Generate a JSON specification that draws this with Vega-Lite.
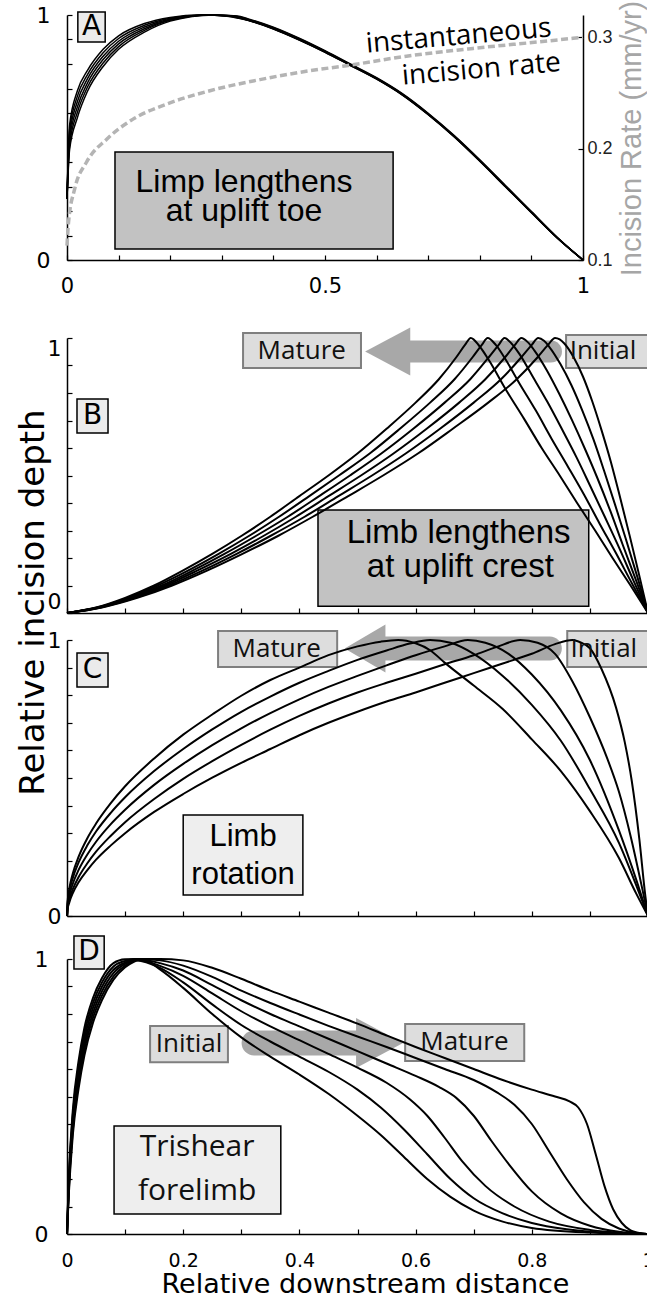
{
"$schema": "https://vega.github.io/schema/vega-lite/v6.json",
"background": "#ffffff",
"padding": {"left": 15, "top": 0, "right": 0, "bottom": 0},
"config": {
  "view": {"stroke": null},
  "axis": {"grid": false, "domainColor": "#000000", "domainWidth": 1.5, "tickColor": "#000000", "tickWidth": 1.2, "tickSize": -5, "labelColor": "#000000", "labelFont": "DejaVu Sans", "titleFont": "DejaVu Sans", "titleColor": "#000000", "titleFontWeight": "normal"}
},
"datasets": {
"cA": [
{"k":0,"x":0,"y":0.25},{"k":0,"x":0.005,"y":0.55},{"k":0,"x":0.02,"y":0.69},{"k":0,"x":0.04,"y":0.775},{"k":0,"x":0.07,"y":0.86},{"k":0,"x":0.1,"y":0.915},{"k":0,"x":0.15,"y":0.965},{"k":0,"x":0.2,"y":0.99},{"k":0,"x":0.26,"y":1},{"k":0,"x":0.31,"y":0.995},{"k":0,"x":0.35,"y":0.978},{"k":0,"x":0.4,"y":0.943},{"k":0,"x":0.45,"y":0.898},{"k":0,"x":0.5,"y":0.848},{"k":0,"x":0.55,"y":0.793},{"k":0,"x":0.6,"y":0.738},{"k":0,"x":0.65,"y":0.673},{"k":0,"x":0.7,"y":0.593},{"k":0,"x":0.75,"y":0.503},{"k":0,"x":0.8,"y":0.403},{"k":0,"x":0.85,"y":0.298},{"k":0,"x":0.9,"y":0.193},{"k":0,"x":0.95,"y":0.09},{"k":0,"x":1,"y":0},
{"k":1,"x":0,"y":0.25},{"k":1,"x":0.005,"y":0.53},{"k":1,"x":0.02,"y":0.668},{"k":1,"x":0.04,"y":0.758},{"k":1,"x":0.07,"y":0.846},{"k":1,"x":0.1,"y":0.904},{"k":1,"x":0.15,"y":0.958},{"k":1,"x":0.2,"y":0.987},{"k":1,"x":0.265,"y":1},{"k":1,"x":0.31,"y":0.996},{"k":1,"x":0.35,"y":0.979},{"k":1,"x":0.4,"y":0.944},{"k":1,"x":0.45,"y":0.899},{"k":1,"x":0.5,"y":0.849},{"k":1,"x":0.55,"y":0.794},{"k":1,"x":0.6,"y":0.739},{"k":1,"x":0.65,"y":0.674},{"k":1,"x":0.7,"y":0.594},{"k":1,"x":0.75,"y":0.504},{"k":1,"x":0.8,"y":0.404},{"k":1,"x":0.85,"y":0.299},{"k":1,"x":0.9,"y":0.194},{"k":1,"x":0.95,"y":0.09},{"k":1,"x":1,"y":0},
{"k":2,"x":0,"y":0.25},{"k":2,"x":0.005,"y":0.51},{"k":2,"x":0.02,"y":0.646},{"k":2,"x":0.04,"y":0.741},{"k":2,"x":0.07,"y":0.832},{"k":2,"x":0.1,"y":0.893},{"k":2,"x":0.15,"y":0.951},{"k":2,"x":0.2,"y":0.984},{"k":2,"x":0.27,"y":1},{"k":2,"x":0.315,"y":0.996},{"k":2,"x":0.35,"y":0.98},{"k":2,"x":0.4,"y":0.945},{"k":2,"x":0.45,"y":0.9},{"k":2,"x":0.5,"y":0.85},{"k":2,"x":0.55,"y":0.795},{"k":2,"x":0.6,"y":0.74},{"k":2,"x":0.65,"y":0.675},{"k":2,"x":0.7,"y":0.595},{"k":2,"x":0.75,"y":0.505},{"k":2,"x":0.8,"y":0.405},{"k":2,"x":0.85,"y":0.3},{"k":2,"x":0.9,"y":0.195},{"k":2,"x":0.95,"y":0.091},{"k":2,"x":1,"y":0},
{"k":3,"x":0,"y":0.25},{"k":3,"x":0.005,"y":0.49},{"k":3,"x":0.02,"y":0.624},{"k":3,"x":0.04,"y":0.724},{"k":3,"x":0.07,"y":0.818},{"k":3,"x":0.1,"y":0.882},{"k":3,"x":0.15,"y":0.944},{"k":3,"x":0.2,"y":0.981},{"k":3,"x":0.275,"y":1},{"k":3,"x":0.32,"y":0.996},{"k":3,"x":0.35,"y":0.981},{"k":3,"x":0.4,"y":0.946},{"k":3,"x":0.45,"y":0.901},{"k":3,"x":0.5,"y":0.851},{"k":3,"x":0.55,"y":0.796},{"k":3,"x":0.6,"y":0.741},{"k":3,"x":0.65,"y":0.676},{"k":3,"x":0.7,"y":0.596},{"k":3,"x":0.75,"y":0.506},{"k":3,"x":0.8,"y":0.406},{"k":3,"x":0.85,"y":0.301},{"k":3,"x":0.9,"y":0.196},{"k":3,"x":0.95,"y":0.091},{"k":3,"x":1,"y":0},
{"k":4,"x":0,"y":0.25},{"k":4,"x":0.005,"y":0.47},{"k":4,"x":0.02,"y":0.602},{"k":4,"x":0.04,"y":0.707},{"k":4,"x":0.07,"y":0.804},{"k":4,"x":0.1,"y":0.871},{"k":4,"x":0.15,"y":0.937},{"k":4,"x":0.2,"y":0.978},{"k":4,"x":0.28,"y":1},{"k":4,"x":0.325,"y":0.996},{"k":4,"x":0.35,"y":0.983},{"k":4,"x":0.4,"y":0.948},{"k":4,"x":0.45,"y":0.903},{"k":4,"x":0.5,"y":0.852},{"k":4,"x":0.55,"y":0.797},{"k":4,"x":0.6,"y":0.742},{"k":4,"x":0.65,"y":0.677},{"k":4,"x":0.7,"y":0.597},{"k":4,"x":0.75,"y":0.507},{"k":4,"x":0.8,"y":0.407},{"k":4,"x":0.85,"y":0.302},{"k":4,"x":0.9,"y":0.197},{"k":4,"x":0.95,"y":0.092},{"k":4,"x":1,"y":0},
{"k":5,"x":0,"y":0.25},{"k":5,"x":0.005,"y":0.45},{"k":5,"x":0.02,"y":0.58},{"k":5,"x":0.04,"y":0.69},{"k":5,"x":0.07,"y":0.79},{"k":5,"x":0.1,"y":0.86},{"k":5,"x":0.15,"y":0.93},{"k":5,"x":0.2,"y":0.975},{"k":5,"x":0.285,"y":1},{"k":5,"x":0.33,"y":0.996},{"k":5,"x":0.35,"y":0.985},{"k":5,"x":0.4,"y":0.95},{"k":5,"x":0.45,"y":0.905},{"k":5,"x":0.5,"y":0.854},{"k":5,"x":0.55,"y":0.799},{"k":5,"x":0.6,"y":0.744},{"k":5,"x":0.65,"y":0.679},{"k":5,"x":0.7,"y":0.599},{"k":5,"x":0.75,"y":0.509},{"k":5,"x":0.8,"y":0.409},{"k":5,"x":0.85,"y":0.303},{"k":5,"x":0.9,"y":0.198},{"k":5,"x":0.95,"y":0.093},{"k":5,"x":1,"y":0}
],
"rate": [
{"x":0,"r":0.113},{"x":0.003,"r":0.134},{"x":0.015,"r":0.164},{"x":0.038,"r":0.188},{"x":0.077,"r":0.2085},{"x":0.128,"r":0.2265},{"x":0.193,"r":0.24},{"x":0.277,"r":0.252},{"x":0.374,"r":0.262},{"x":0.471,"r":0.27},{"x":0.542,"r":0.2745},{"x":0.658,"r":0.283},{"x":0.787,"r":0.29},{"x":0.917,"r":0.296},{"x":1,"r":0.3}
],
"cB": [
{"k":0,"x":0,"y":0},{"k":0,"x":0.05,"y":0.02},{"k":0,"x":0.1,"y":0.055},{"k":0,"x":0.15,"y":0.1},{"k":0,"x":0.2,"y":0.155},{"k":0,"x":0.25,"y":0.215},{"k":0,"x":0.3,"y":0.28},{"k":0,"x":0.35,"y":0.35},{"k":0,"x":0.4,"y":0.425},{"k":0,"x":0.45,"y":0.5},{"k":0,"x":0.5,"y":0.58},{"k":0,"x":0.55,"y":0.67},{"k":0,"x":0.6,"y":0.765},{"k":0,"x":0.64,"y":0.85},{"k":0,"x":0.67,"y":0.93},{"k":0,"x":0.685,"y":0.975},{"k":0,"x":0.695,"y":1},{"k":0,"x":0.71,"y":0.97},{"k":0,"x":0.726,"y":0.92},{"k":0,"x":0.756,"y":0.81},{"k":0,"x":0.787,"y":0.705},{"k":0,"x":0.817,"y":0.6},{"k":0,"x":0.848,"y":0.5},{"k":0,"x":0.878,"y":0.4},{"k":0,"x":0.909,"y":0.3},{"k":0,"x":0.939,"y":0.2},{"k":0,"x":0.97,"y":0.1},{"k":0,"x":1,"y":0},
{"k":1,"x":0,"y":0},{"k":1,"x":0.052,"y":0.02},{"k":1,"x":0.104,"y":0.055},{"k":1,"x":0.156,"y":0.1},{"k":1,"x":0.209,"y":0.155},{"k":1,"x":0.261,"y":0.215},{"k":1,"x":0.313,"y":0.28},{"k":1,"x":0.365,"y":0.35},{"k":1,"x":0.417,"y":0.425},{"k":1,"x":0.468,"y":0.5},{"k":1,"x":0.521,"y":0.58},{"k":1,"x":0.573,"y":0.67},{"k":1,"x":0.625,"y":0.765},{"k":1,"x":0.667,"y":0.85},{"k":1,"x":0.698,"y":0.93},{"k":1,"x":0.714,"y":0.975},{"k":1,"x":0.724,"y":1},{"k":1,"x":0.738,"y":0.975},{"k":1,"x":0.752,"y":0.932},{"k":1,"x":0.779,"y":0.834},{"k":1,"x":0.807,"y":0.736},{"k":1,"x":0.834,"y":0.634},{"k":1,"x":0.862,"y":0.533},{"k":1,"x":0.89,"y":0.43},{"k":1,"x":0.917,"y":0.324},{"k":1,"x":0.945,"y":0.217},{"k":1,"x":0.972,"y":0.109},{"k":1,"x":1,"y":0},
{"k":2,"x":0,"y":0},{"k":2,"x":0.054,"y":0.02},{"k":2,"x":0.108,"y":0.055},{"k":2,"x":0.163,"y":0.1},{"k":2,"x":0.217,"y":0.155},{"k":2,"x":0.271,"y":0.215},{"k":2,"x":0.325,"y":0.28},{"k":2,"x":0.38,"y":0.35},{"k":2,"x":0.434,"y":0.425},{"k":2,"x":0.487,"y":0.5},{"k":2,"x":0.541,"y":0.58},{"k":2,"x":0.596,"y":0.67},{"k":2,"x":0.65,"y":0.765},{"k":2,"x":0.694,"y":0.85},{"k":2,"x":0.726,"y":0.93},{"k":2,"x":0.743,"y":0.975},{"k":2,"x":0.753,"y":1},{"k":2,"x":0.765,"y":0.98},{"k":2,"x":0.778,"y":0.944},{"k":2,"x":0.802,"y":0.858},{"k":2,"x":0.827,"y":0.767},{"k":2,"x":0.852,"y":0.668},{"k":2,"x":0.877,"y":0.566},{"k":2,"x":0.901,"y":0.46},{"k":2,"x":0.926,"y":0.348},{"k":2,"x":0.951,"y":0.234},{"k":2,"x":0.975,"y":0.118},{"k":2,"x":1,"y":0},
{"k":3,"x":0,"y":0},{"k":3,"x":0.056,"y":0.02},{"k":3,"x":0.113,"y":0.055},{"k":3,"x":0.169,"y":0.1},{"k":3,"x":0.225,"y":0.155},{"k":3,"x":0.282,"y":0.215},{"k":3,"x":0.338,"y":0.28},{"k":3,"x":0.394,"y":0.35},{"k":3,"x":0.45,"y":0.425},{"k":3,"x":0.506,"y":0.5},{"k":3,"x":0.562,"y":0.58},{"k":3,"x":0.619,"y":0.67},{"k":3,"x":0.675,"y":0.765},{"k":3,"x":0.72,"y":0.85},{"k":3,"x":0.754,"y":0.93},{"k":3,"x":0.771,"y":0.975},{"k":3,"x":0.782,"y":1},{"k":3,"x":0.793,"y":0.985},{"k":3,"x":0.804,"y":0.956},{"k":3,"x":0.826,"y":0.882},{"k":3,"x":0.847,"y":0.798},{"k":3,"x":0.869,"y":0.702},{"k":3,"x":0.891,"y":0.599},{"k":3,"x":0.913,"y":0.49},{"k":3,"x":0.935,"y":0.372},{"k":3,"x":0.956,"y":0.251},{"k":3,"x":0.978,"y":0.127},{"k":3,"x":1,"y":0},
{"k":4,"x":0,"y":0},{"k":4,"x":0.058,"y":0.02},{"k":4,"x":0.117,"y":0.055},{"k":4,"x":0.175,"y":0.1},{"k":4,"x":0.234,"y":0.155},{"k":4,"x":0.292,"y":0.215},{"k":4,"x":0.35,"y":0.28},{"k":4,"x":0.409,"y":0.35},{"k":4,"x":0.467,"y":0.425},{"k":4,"x":0.525,"y":0.5},{"k":4,"x":0.583,"y":0.58},{"k":4,"x":0.642,"y":0.67},{"k":4,"x":0.7,"y":0.765},{"k":4,"x":0.747,"y":0.85},{"k":4,"x":0.782,"y":0.93},{"k":4,"x":0.8,"y":0.975},{"k":4,"x":0.811,"y":1},{"k":4,"x":0.821,"y":0.99},{"k":4,"x":0.83,"y":0.968},{"k":4,"x":0.849,"y":0.906},{"k":4,"x":0.868,"y":0.829},{"k":4,"x":0.887,"y":0.736},{"k":4,"x":0.906,"y":0.632},{"k":4,"x":0.924,"y":0.52},{"k":4,"x":0.943,"y":0.396},{"k":4,"x":0.962,"y":0.268},{"k":4,"x":0.981,"y":0.136},{"k":4,"x":1,"y":0},
{"k":5,"x":0,"y":0},{"k":5,"x":0.06,"y":0.02},{"k":5,"x":0.121,"y":0.055},{"k":5,"x":0.181,"y":0.1},{"k":5,"x":0.242,"y":0.155},{"k":5,"x":0.302,"y":0.215},{"k":5,"x":0.363,"y":0.28},{"k":5,"x":0.423,"y":0.35},{"k":5,"x":0.484,"y":0.425},{"k":5,"x":0.544,"y":0.5},{"k":5,"x":0.604,"y":0.58},{"k":5,"x":0.664,"y":0.67},{"k":5,"x":0.725,"y":0.765},{"k":5,"x":0.774,"y":0.85},{"k":5,"x":0.81,"y":0.93},{"k":5,"x":0.828,"y":0.975},{"k":5,"x":0.84,"y":1},{"k":5,"x":0.848,"y":0.995},{"k":5,"x":0.856,"y":0.98},{"k":5,"x":0.872,"y":0.93},{"k":5,"x":0.888,"y":0.86},{"k":5,"x":0.904,"y":0.77},{"k":5,"x":0.92,"y":0.665},{"k":5,"x":0.936,"y":0.55},{"k":5,"x":0.952,"y":0.42},{"k":5,"x":0.968,"y":0.285},{"k":5,"x":0.984,"y":0.145},{"k":5,"x":1,"y":0}
],
"cC": [
{"k":0,"x":0,"y":0},{"k":0,"x":0.001,"y":0.051},{"k":0,"x":0.004,"y":0.099},{"k":0,"x":0.01,"y":0.154},{"k":0,"x":0.02,"y":0.215},{"k":0,"x":0.035,"y":0.282},{"k":0,"x":0.05,"y":0.335},{"k":0,"x":0.075,"y":0.408},{"k":0,"x":0.1,"y":0.47},{"k":0,"x":0.15,"y":0.571},{"k":0,"x":0.2,"y":0.657},{"k":0,"x":0.25,"y":0.73},{"k":0,"x":0.3,"y":0.798},{"k":0,"x":0.35,"y":0.855},{"k":0,"x":0.4,"y":0.9},{"k":0,"x":0.45,"y":0.945},{"k":0,"x":0.5,"y":0.977},{"k":0,"x":0.54,"y":0.994},{"k":0,"x":0.57,"y":1},{"k":0,"x":0.6,"y":0.988},{"k":0,"x":0.625,"y":0.963},{"k":0,"x":0.65,"y":0.918},{"k":0,"x":0.7,"y":0.835},{"k":0,"x":0.75,"y":0.75},{"k":0,"x":0.8,"y":0.64},{"k":0,"x":0.85,"y":0.525},{"k":0,"x":0.9,"y":0.38},{"k":0,"x":0.95,"y":0.21},{"k":0,"x":0.98,"y":0.08},{"k":0,"x":1,"y":0},
{"k":1,"x":0,"y":0},{"k":1,"x":0.001,"y":0.044},{"k":1,"x":0.004,"y":0.088},{"k":1,"x":0.01,"y":0.138},{"k":1,"x":0.02,"y":0.194},{"k":1,"x":0.035,"y":0.256},{"k":1,"x":0.05,"y":0.306},{"k":1,"x":0.075,"y":0.373},{"k":1,"x":0.1,"y":0.43},{"k":1,"x":0.15,"y":0.525},{"k":1,"x":0.2,"y":0.605},{"k":1,"x":0.25,"y":0.676},{"k":1,"x":0.3,"y":0.74},{"k":1,"x":0.35,"y":0.795},{"k":1,"x":0.4,"y":0.845},{"k":1,"x":0.45,"y":0.888},{"k":1,"x":0.5,"y":0.928},{"k":1,"x":0.55,"y":0.962},{"k":1,"x":0.59,"y":0.987},{"k":1,"x":0.625,"y":1},{"k":1,"x":0.66,"y":0.99},{"k":1,"x":0.7,"y":0.95},{"k":1,"x":0.75,"y":0.87},{"k":1,"x":0.8,"y":0.765},{"k":1,"x":0.85,"y":0.635},{"k":1,"x":0.9,"y":0.46},{"k":1,"x":0.95,"y":0.265},{"k":1,"x":0.98,"y":0.11},{"k":1,"x":1,"y":0},
{"k":2,"x":0,"y":0},{"k":2,"x":0.001,"y":0.035},{"k":2,"x":0.004,"y":0.073},{"k":2,"x":0.01,"y":0.117},{"k":2,"x":0.02,"y":0.167},{"k":2,"x":0.035,"y":0.223},{"k":2,"x":0.05,"y":0.269},{"k":2,"x":0.075,"y":0.332},{"k":2,"x":0.1,"y":0.385},{"k":2,"x":0.15,"y":0.475},{"k":2,"x":0.2,"y":0.551},{"k":2,"x":0.25,"y":0.619},{"k":2,"x":0.3,"y":0.68},{"k":2,"x":0.35,"y":0.735},{"k":2,"x":0.4,"y":0.785},{"k":2,"x":0.45,"y":0.83},{"k":2,"x":0.5,"y":0.87},{"k":2,"x":0.55,"y":0.908},{"k":2,"x":0.6,"y":0.945},{"k":2,"x":0.65,"y":0.977},{"k":2,"x":0.69,"y":1},{"k":2,"x":0.72,"y":0.99},{"k":2,"x":0.76,"y":0.95},{"k":2,"x":0.8,"y":0.875},{"k":2,"x":0.85,"y":0.745},{"k":2,"x":0.9,"y":0.565},{"k":2,"x":0.95,"y":0.31},{"k":2,"x":0.98,"y":0.13},{"k":2,"x":1,"y":0},
{"k":3,"x":0,"y":0},{"k":3,"x":0.001,"y":0.027},{"k":3,"x":0.004,"y":0.059},{"k":3,"x":0.01,"y":0.097},{"k":3,"x":0.02,"y":0.141},{"k":3,"x":0.035,"y":0.191},{"k":3,"x":0.05,"y":0.233},{"k":3,"x":0.075,"y":0.29},{"k":3,"x":0.1,"y":0.34},{"k":3,"x":0.15,"y":0.424},{"k":3,"x":0.2,"y":0.497},{"k":3,"x":0.25,"y":0.561},{"k":3,"x":0.3,"y":0.62},{"k":3,"x":0.35,"y":0.675},{"k":3,"x":0.4,"y":0.725},{"k":3,"x":0.45,"y":0.77},{"k":3,"x":0.5,"y":0.81},{"k":3,"x":0.55,"y":0.845},{"k":3,"x":0.6,"y":0.878},{"k":3,"x":0.65,"y":0.912},{"k":3,"x":0.7,"y":0.945},{"k":3,"x":0.74,"y":0.975},{"k":3,"x":0.78,"y":1},{"k":3,"x":0.81,"y":0.99},{"k":3,"x":0.84,"y":0.95},{"k":3,"x":0.87,"y":0.85},{"k":3,"x":0.9,"y":0.72},{"k":3,"x":0.93,"y":0.57},{"k":3,"x":0.95,"y":0.45},{"k":3,"x":0.97,"y":0.29},{"k":3,"x":0.99,"y":0.1},{"k":3,"x":1,"y":0},
{"k":4,"x":0,"y":0},{"k":4,"x":0.001,"y":0.023},{"k":4,"x":0.004,"y":0.049},{"k":4,"x":0.01,"y":0.083},{"k":4,"x":0.02,"y":0.122},{"k":4,"x":0.035,"y":0.166},{"k":4,"x":0.05,"y":0.204},{"k":4,"x":0.075,"y":0.255},{"k":4,"x":0.1,"y":0.3},{"k":4,"x":0.15,"y":0.377},{"k":4,"x":0.2,"y":0.442},{"k":4,"x":0.25,"y":0.501},{"k":4,"x":0.3,"y":0.555},{"k":4,"x":0.35,"y":0.605},{"k":4,"x":0.4,"y":0.655},{"k":4,"x":0.45,"y":0.7},{"k":4,"x":0.5,"y":0.74},{"k":4,"x":0.55,"y":0.777},{"k":4,"x":0.6,"y":0.81},{"k":4,"x":0.65,"y":0.845},{"k":4,"x":0.7,"y":0.88},{"k":4,"x":0.75,"y":0.915},{"k":4,"x":0.8,"y":0.95},{"k":4,"x":0.84,"y":0.985},{"k":4,"x":0.87,"y":1},{"k":4,"x":0.885,"y":0.99},{"k":4,"x":0.9,"y":0.97},{"k":4,"x":0.92,"y":0.895},{"k":4,"x":0.945,"y":0.755},{"k":4,"x":0.96,"y":0.63},{"k":4,"x":0.972,"y":0.49},{"k":4,"x":0.985,"y":0.28},{"k":4,"x":0.995,"y":0.08},{"k":4,"x":1,"y":0}
],
"cD": [
{"k":5,"x":0,"y":0},{"k":5,"x":0.003,"y":0.2},{"k":5,"x":0.01,"y":0.45},{"k":5,"x":0.02,"y":0.63},{"k":5,"x":0.03,"y":0.75},{"k":5,"x":0.045,"y":0.86},{"k":5,"x":0.06,"y":0.93},{"k":5,"x":0.08,"y":0.985},{"k":5,"x":0.1,"y":0.999},{"k":5,"x":0.12,"y":1},{"k":5,"x":0.16,"y":1},{"k":5,"x":0.2,"y":0.995},{"k":5,"x":0.25,"y":0.968},{"k":5,"x":0.3,"y":0.928},{"k":5,"x":0.35,"y":0.885},{"k":5,"x":0.4,"y":0.845},{"k":5,"x":0.45,"y":0.805},{"k":5,"x":0.5,"y":0.765},{"k":5,"x":0.55,"y":0.722},{"k":5,"x":0.6,"y":0.68},{"k":5,"x":0.65,"y":0.64},{"k":5,"x":0.7,"y":0.6},{"k":5,"x":0.75,"y":0.56},{"k":5,"x":0.8,"y":0.525},{"k":5,"x":0.84,"y":0.5},{"k":5,"x":0.865,"y":0.482},{"k":5,"x":0.88,"y":0.46},{"k":5,"x":0.895,"y":0.4},{"k":5,"x":0.91,"y":0.29},{"k":5,"x":0.925,"y":0.175},{"k":5,"x":0.94,"y":0.09},{"k":5,"x":0.955,"y":0.04},{"k":5,"x":0.97,"y":0.013},{"k":5,"x":0.99,"y":0.002},{"k":5,"x":1,"y":0},
{"k":4,"x":0,"y":0},{"k":4,"x":0.003,"y":0.188},{"k":4,"x":0.01,"y":0.432},{"k":4,"x":0.02,"y":0.61},{"k":4,"x":0.03,"y":0.73},{"k":4,"x":0.045,"y":0.842},{"k":4,"x":0.06,"y":0.914},{"k":4,"x":0.08,"y":0.973},{"k":4,"x":0.1,"y":0.993},{"k":4,"x":0.12,"y":1},{"k":4,"x":0.16,"y":0.995},{"k":4,"x":0.2,"y":0.976},{"k":4,"x":0.25,"y":0.935},{"k":4,"x":0.3,"y":0.885},{"k":4,"x":0.35,"y":0.84},{"k":4,"x":0.4,"y":0.798},{"k":4,"x":0.45,"y":0.757},{"k":4,"x":0.5,"y":0.718},{"k":4,"x":0.55,"y":0.68},{"k":4,"x":0.6,"y":0.64},{"k":4,"x":0.65,"y":0.6},{"k":4,"x":0.7,"y":0.56},{"k":4,"x":0.74,"y":0.515},{"k":4,"x":0.77,"y":0.47},{"k":4,"x":0.8,"y":0.4},{"k":4,"x":0.83,"y":0.3},{"k":4,"x":0.86,"y":0.2},{"k":4,"x":0.89,"y":0.115},{"k":4,"x":0.92,"y":0.055},{"k":4,"x":0.95,"y":0.02},{"k":4,"x":0.98,"y":0.004},{"k":4,"x":1,"y":0},
{"k":3,"x":0,"y":0},{"k":3,"x":0.003,"y":0.176},{"k":3,"x":0.01,"y":0.414},{"k":3,"x":0.02,"y":0.59},{"k":3,"x":0.03,"y":0.71},{"k":3,"x":0.045,"y":0.824},{"k":3,"x":0.06,"y":0.898},{"k":3,"x":0.08,"y":0.961},{"k":3,"x":0.1,"y":0.987},{"k":3,"x":0.12,"y":0.999},{"k":3,"x":0.16,"y":0.985},{"k":3,"x":0.2,"y":0.958},{"k":3,"x":0.25,"y":0.905},{"k":3,"x":0.3,"y":0.85},{"k":3,"x":0.35,"y":0.8},{"k":3,"x":0.4,"y":0.755},{"k":3,"x":0.45,"y":0.71},{"k":3,"x":0.5,"y":0.665},{"k":3,"x":0.55,"y":0.62},{"k":3,"x":0.6,"y":0.575},{"k":3,"x":0.64,"y":0.535},{"k":3,"x":0.67,"y":0.495},{"k":3,"x":0.7,"y":0.43},{"k":3,"x":0.73,"y":0.34},{"k":3,"x":0.76,"y":0.255},{"k":3,"x":0.8,"y":0.155},{"k":3,"x":0.85,"y":0.075},{"k":3,"x":0.9,"y":0.03},{"k":3,"x":0.95,"y":0.008},{"k":3,"x":1,"y":0},
{"k":2,"x":0,"y":0},{"k":2,"x":0.003,"y":0.164},{"k":2,"x":0.01,"y":0.396},{"k":2,"x":0.02,"y":0.57},{"k":2,"x":0.03,"y":0.69},{"k":2,"x":0.045,"y":0.806},{"k":2,"x":0.06,"y":0.882},{"k":2,"x":0.08,"y":0.949},{"k":2,"x":0.1,"y":0.982},{"k":2,"x":0.12,"y":0.998},{"k":2,"x":0.16,"y":0.975},{"k":2,"x":0.2,"y":0.939},{"k":2,"x":0.25,"y":0.875},{"k":2,"x":0.3,"y":0.81},{"k":2,"x":0.35,"y":0.755},{"k":2,"x":0.4,"y":0.705},{"k":2,"x":0.45,"y":0.655},{"k":2,"x":0.5,"y":0.605},{"k":2,"x":0.55,"y":0.55},{"k":2,"x":0.59,"y":0.49},{"k":2,"x":0.62,"y":0.43},{"k":2,"x":0.65,"y":0.35},{"k":2,"x":0.68,"y":0.265},{"k":2,"x":0.72,"y":0.175},{"k":2,"x":0.77,"y":0.1},{"k":2,"x":0.83,"y":0.045},{"k":2,"x":0.9,"y":0.015},{"k":2,"x":1,"y":0},
{"k":1,"x":0,"y":0},{"k":1,"x":0.003,"y":0.152},{"k":1,"x":0.01,"y":0.378},{"k":1,"x":0.02,"y":0.55},{"k":1,"x":0.03,"y":0.67},{"k":1,"x":0.045,"y":0.788},{"k":1,"x":0.06,"y":0.866},{"k":1,"x":0.08,"y":0.937},{"k":1,"x":0.1,"y":0.976},{"k":1,"x":0.12,"y":0.995},{"k":1,"x":0.16,"y":0.968},{"k":1,"x":0.2,"y":0.915},{"k":1,"x":0.25,"y":0.835},{"k":1,"x":0.3,"y":0.76},{"k":1,"x":0.35,"y":0.7},{"k":1,"x":0.4,"y":0.645},{"k":1,"x":0.45,"y":0.59},{"k":1,"x":0.5,"y":0.525},{"k":1,"x":0.54,"y":0.46},{"k":1,"x":0.58,"y":0.38},{"k":1,"x":0.62,"y":0.29},{"k":1,"x":0.66,"y":0.2},{"k":1,"x":0.7,"y":0.13},{"k":1,"x":0.75,"y":0.075},{"k":1,"x":0.8,"y":0.04},{"k":1,"x":0.86,"y":0.017},{"k":1,"x":0.93,"y":0.004},{"k":1,"x":1,"y":0},
{"k":0,"x":0,"y":0},{"k":0,"x":0.003,"y":0.14},{"k":0,"x":0.01,"y":0.36},{"k":0,"x":0.02,"y":0.53},{"k":0,"x":0.03,"y":0.65},{"k":0,"x":0.045,"y":0.77},{"k":0,"x":0.06,"y":0.85},{"k":0,"x":0.08,"y":0.925},{"k":0,"x":0.1,"y":0.97},{"k":0,"x":0.115,"y":0.99},{"k":0,"x":0.13,"y":1},{"k":0,"x":0.16,"y":0.962},{"k":0,"x":0.2,"y":0.895},{"k":0,"x":0.25,"y":0.8},{"k":0,"x":0.3,"y":0.715},{"k":0,"x":0.35,"y":0.645},{"k":0,"x":0.4,"y":0.58},{"k":0,"x":0.45,"y":0.51},{"k":0,"x":0.5,"y":0.43},{"k":0,"x":0.54,"y":0.36},{"k":0,"x":0.58,"y":0.28},{"k":0,"x":0.62,"y":0.2},{"k":0,"x":0.66,"y":0.135},{"k":0,"x":0.7,"y":0.085},{"k":0,"x":0.75,"y":0.045},{"k":0,"x":0.8,"y":0.022},{"k":0,"x":0.9,"y":0.005},{"k":0,"x":1,"y":0}
],
"boxes": [
{"p":"A","role":"letter","x":0.021,"x2":0.074,"y":0.89,"y2":1.012},
{"p":"A","role":"note","x":0.093,"x2":0.632,"y":0.045,"y2":0.441},
{"p":"B","role":"letter","x":0.0172,"x2":0.0706,"y":0.655,"y2":0.778},
{"p":"B","role":"note","x":0.432,"x2":0.898,"y":0.025,"y2":0.375},
{"p":"B","role":"tag","x":0.303,"x2":0.506,"y":0.891,"y2":1.018},
{"p":"B","role":"tag","x":0.859,"x2":1.007,"y":0.891,"y2":1.011},
{"p":"C","role":"letter","x":0.0172,"x2":0.0706,"y":0.83,"y2":0.953},
{"p":"C","role":"note","x":0.2,"x2":0.406,"y":0.076,"y2":0.366},
{"p":"C","role":"tag","x":0.26,"x2":0.465,"y":0.902,"y2":1.033},
{"p":"C","role":"tag","x":0.861,"x2":1.007,"y":0.902,"y2":1.033},
{"p":"D","role":"letter","x":0.012,"x2":0.064,"y":0.964,"y2":1.084},
{"p":"D","role":"note","x":0.081,"x2":0.368,"y":0.073,"y2":0.393},
{"p":"D","role":"tag","x":0.143,"x2":0.277,"y":0.625,"y2":0.756},
{"p":"D","role":"tag","x":0.582,"x2":0.787,"y":0.629,"y2":0.764}
],
"texts": [
{"p":"A","role":"letter","x":0.0475,"y":0.951,"t":"A"},
{"p":"A","role":"note","x":0.343,"y":0.318,"t":"Limp lengthens"},
{"p":"A","role":"note","x":0.343,"y":0.2,"t":"at uplift toe"},
{"p":"A","role":"callout","x":0.759,"y":0.912,"t":"instantaneous"},
{"p":"A","role":"callout","x":0.803,"y":0.776,"t":"incision rate"},
{"p":"B","role":"letter","x":0.0439,"y":0.716,"t":"B"},
{"p":"B","role":"note","x":0.674,"y":0.291,"t":"Limb lengthens"},
{"p":"B","role":"note","x":0.677,"y":0.167,"t":"at uplift crest"},
{"p":"B","role":"tag","x":0.404,"y":0.953,"t":"Mature"},
{"p":"B","role":"tag","x":0.9225,"y":0.953,"t":"Initial"},
{"p":"C","role":"letter","x":0.0439,"y":0.891,"t":"C"},
{"p":"C","role":"note","x":0.303,"y":0.286,"t":"Limb"},
{"p":"C","role":"note","x":0.303,"y":0.149,"t":"rotation"},
{"p":"C","role":"tag","x":0.361,"y":0.967,"t":"Mature"},
{"p":"C","role":"tag","x":0.924,"y":0.967,"t":"Initial"},
{"p":"D","role":"letter","x":0.038,"y":1.024,"t":"D"},
{"p":"D","role":"note","x":0.224,"y":0.316,"t":"Trishear"},
{"p":"D","role":"note","x":0.224,"y":0.156,"t":"forelimb"},
{"p":"D","role":"tag","x":0.21,"y":0.691,"t":"Initial"},
{"p":"D","role":"tag","x":0.684,"y":0.698,"t":"Mature"}
],
"arrows": [
{"p":"B","x":0.573,"x2":0.833,"y":0.951},
{"p":"C","x":0.539,"x2":0.831,"y":0.969},
{"p":"D","x":0.322,"x2":0.505,"y":0.695}
],
"heads": [
{"p":"B","x":0.552,"y":0.951},
{"p":"C","x":0.513,"y":0.969},
{"p":"D","x":0.538,"y":0.695}
]
},
"vconcat": [
{"vconcat": [
{
"width": 516, "height": 245,
"encoding": {
  "x": {"field":"x","type":"quantitative","scale":{"domain":[0,1],"nice":false,"zero":false},
        "axis":{"values":[0,0.1,0.2,0.3,0.4,0.5,0.6,0.7,0.8,0.9,1],"format":"~g","labelExpr":"indexof(['0','0.5','1'], datum.label) >= 0 ? datum.label : ''","labelPadding":20,"labelFontSize":21,"labelFlush":false,"title":null}}
},
"layer": [
{
"encoding": {
  "y": {"field":"y","type":"quantitative","scale":{"domain":[0,1],"nice":false,"zero":false},
        "axis":{"values":[0,0.1,0.2,0.3,0.4,0.5,0.6,0.7,0.8,0.9,1],"format":"~g","labelExpr":"indexof(['0','1'], datum.label) >= 0 ? datum.label : ''","labelPadding":22,"labelFontSize":22,"labelFlush":false,"title":null}}
},
"layer": [
  {"data":{"name":"boxes"},"transform":[{"filter":"datum.p == 'A' && datum.role == 'letter'"}],"mark":{"type":"rect","fill":"#ebebeb","stroke":"#000000","strokeWidth":1.5},"encoding":{"x2":{"field":"x2"},"y2":{"field":"y2"}}},
  {"data":{"name":"boxes"},"transform":[{"filter":"datum.p == 'A' && datum.role == 'note'"}],"mark":{"type":"rect","fill":"#c2c2c2","stroke":"#000000","strokeWidth":1.5},"encoding":{"x2":{"field":"x2"},"y2":{"field":"y2"}}},
  {"data":{"name":"cA"},"mark":{"type":"line","stroke":"#000000","strokeWidth":1.5,"interpolate":"monotone"},"encoding":{"detail":{"field":"k","type":"nominal"}}},
  {"data":{"name":"texts"},"transform":[{"filter":"datum.p == 'A' && datum.role == 'letter'"}],"mark":{"type":"text","font":"DejaVu Sans","fontSize":28,"align":"center","baseline":"middle","color":"#000000"},"encoding":{"text":{"field":"t"}}},
  {"data":{"name":"texts"},"transform":[{"filter":"datum.p == 'A' && datum.role == 'note'"}],"mark":{"type":"text","font":"Liberation Sans","fontSize":32,"align":"center","baseline":"middle","color":"#000000"},"encoding":{"text":{"field":"t"}}},
  {"data":{"name":"texts"},"transform":[{"filter":"datum.p == 'A' && datum.role == 'callout'"}],"mark":{"type":"text","font":"Open Sans","fontSize":28,"align":"center","baseline":"middle","angle":355,"color":"#000000"},"encoding":{"text":{"field":"t"}}}
]
},
{
"data":{"name":"rate"},
"mark":{"type":"line","stroke":"#b4b4b4","strokeWidth":3.5,"strokeDash":[7,3.5],"interpolate":"monotone"},
"encoding": {
  "y": {"field":"r","type":"quantitative","scale":{"domain":[0.1,0.32],"nice":false,"zero":false},
        "axis":{"orient":"right","values":[0.1,0.2,0.3],"format":".1f","labelPadding":9,"labelFont":"Liberation Sans","labelFontSize":18,"labelColor":"#222222","title":"Incision Rate (mm/yr)","titleFont":"Liberation Sans","titleFontSize":29,"titleColor":"#a6a6a6","titleAngle":270,"titleX":57,"titleY":123,"titleAlign":"center","titleBaseline":"alphabetic"}}
}
}
],
"resolve": {"scale": {"y": "independent"}}
},
{"vconcat": [
{
"width": 581, "height": 275,
"encoding": {
  "x": {"field":"x","type":"quantitative","scale":{"domain":[0,1],"nice":false,"zero":false},
        "axis":{"values":[0,0.1,0.2,0.3,0.4,0.5,0.6,0.7,0.8,0.9,1],"labels":false,"title":null}},
  "y": {"field":"y","type":"quantitative","scale":{"domain":[0,1],"nice":false,"zero":false},
        "axis":{"values":[0,0.1,0.2,0.3,0.4,0.5,0.6,0.7,0.8,0.9,1],"format":"~g","labelExpr":"indexof(['0','1'], datum.label) >= 0 ? datum.label : ''","labelPadding":11,"labelFontSize":22,"labelFlush":true,"title":null}}
},
"layer": [
  {"data":{"name":"arrows"},"transform":[{"filter":"datum.p == 'B'"}],"mark":{"type":"rule","stroke":"#a8a8a8","strokeWidth":22,"strokeCap":"round"},"encoding":{"x2":{"field":"x2"}}},
  {"data":{"name":"heads"},"transform":[{"filter":"datum.p == 'B'"}],"mark":{"type":"point","shape":"M-0.94,0L0.94,-1L0.94,1Z","size":2304,"filled":true,"color":"#a8a8a8","opacity":1}},
  {"data":{"name":"boxes"},"transform":[{"filter":"datum.p == 'B' && datum.role == 'tag'"}],"mark":{"type":"rect","fill":"#dddddd","stroke":"#7f7f7f","strokeWidth":2},"encoding":{"x2":{"field":"x2"},"y2":{"field":"y2"}}},
  {"data":{"name":"boxes"},"transform":[{"filter":"datum.p == 'B' && datum.role == 'letter'"}],"mark":{"type":"rect","fill":"#ebebeb","stroke":"#000000","strokeWidth":1.5},"encoding":{"x2":{"field":"x2"},"y2":{"field":"y2"}}},
  {"data":{"name":"boxes"},"transform":[{"filter":"datum.p == 'B' && datum.role == 'note'"}],"mark":{"type":"rect","fill":"#c2c2c2","stroke":"#000000","strokeWidth":1.5},"encoding":{"x2":{"field":"x2"},"y2":{"field":"y2"}}},
  {"data":{"name":"cB"},"mark":{"type":"line","stroke":"#000000","strokeWidth":2,"interpolate":"monotone"},"encoding":{"detail":{"field":"k","type":"nominal"}}},
  {"data":{"name":"texts"},"transform":[{"filter":"datum.p == 'B' && datum.role == 'letter'"}],"mark":{"type":"text","font":"DejaVu Sans","fontSize":28,"align":"center","baseline":"middle","color":"#000000"},"encoding":{"text":{"field":"t"}}},
  {"data":{"name":"texts"},"transform":[{"filter":"datum.p == 'B' && datum.role == 'note'"}],"mark":{"type":"text","font":"Liberation Sans","fontSize":33,"align":"center","baseline":"middle","color":"#000000"},"encoding":{"text":{"field":"t"}}},
  {"data":{"name":"texts"},"transform":[{"filter":"datum.p == 'B' && datum.role == 'tag'"}],"mark":{"type":"text","font":"Open Sans","fontSize":26,"align":"center","baseline":"middle","color":"#111111"},"encoding":{"text":{"field":"t"}}}
]
},
{
"width": 581, "height": 276,
"encoding": {
  "x": {"field":"x","type":"quantitative","scale":{"domain":[0,1],"nice":false,"zero":false},
        "axis":{"values":[0,0.1,0.2,0.3,0.4,0.5,0.6,0.7,0.8,0.9,1],"labels":false,"title":null}},
  "y": {"field":"y","type":"quantitative","scale":{"domain":[0,1],"nice":false,"zero":false},
        "axis":{"values":[0,0.1,0.2,0.3,0.4,0.5,0.6,0.7,0.8,0.9,1],"format":"~g","labelExpr":"indexof(['0','1'], datum.label) >= 0 ? datum.label : ''","labelPadding":11,"labelFontSize":22,"labelFlush":false,
                "title":"Relative incision depth","titleFont":"DejaVu Sans","titleFontSize":34,"titleAngle":270,"titleX":-24,"titleY":-38,"titleAlign":"center","titleBaseline":"alphabetic"}}
},
"layer": [
  {"data":{"name":"arrows"},"transform":[{"filter":"datum.p == 'C'"}],"mark":{"type":"rule","stroke":"#a8a8a8","strokeWidth":24,"strokeCap":"round"},"encoding":{"x2":{"field":"x2"}}},
  {"data":{"name":"heads"},"transform":[{"filter":"datum.p == 'C'"}],"mark":{"type":"point","shape":"M-0.85,0L0.85,-1L0.85,1Z","size":2304,"filled":true,"color":"#a8a8a8","opacity":1}},
  {"data":{"name":"boxes"},"transform":[{"filter":"datum.p == 'C' && datum.role == 'tag'"}],"mark":{"type":"rect","fill":"#dddddd","stroke":"#7f7f7f","strokeWidth":2},"encoding":{"x2":{"field":"x2"},"y2":{"field":"y2"}}},
  {"data":{"name":"boxes"},"transform":[{"filter":"datum.p == 'C' && datum.role == 'letter'"}],"mark":{"type":"rect","fill":"#ebebeb","stroke":"#000000","strokeWidth":1.5},"encoding":{"x2":{"field":"x2"},"y2":{"field":"y2"}}},
  {"data":{"name":"boxes"},"transform":[{"filter":"datum.p == 'C' && datum.role == 'note'"}],"mark":{"type":"rect","fill":"#eeeeee","stroke":"#000000","strokeWidth":1.5},"encoding":{"x2":{"field":"x2"},"y2":{"field":"y2"}}},
  {"data":{"name":"cC"},"mark":{"type":"line","stroke":"#000000","strokeWidth":2,"interpolate":"monotone"},"encoding":{"detail":{"field":"k","type":"nominal"}}},
  {"data":{"name":"texts"},"transform":[{"filter":"datum.p == 'C' && datum.role == 'letter'"}],"mark":{"type":"text","font":"DejaVu Sans","fontSize":28,"align":"center","baseline":"middle","color":"#000000"},"encoding":{"text":{"field":"t"}}},
  {"data":{"name":"texts"},"transform":[{"filter":"datum.p == 'C' && datum.role == 'note'"}],"mark":{"type":"text","font":"Liberation Sans","fontSize":31,"align":"center","baseline":"middle","color":"#000000"},"encoding":{"text":{"field":"t"}}},
  {"data":{"name":"texts"},"transform":[{"filter":"datum.p == 'C' && datum.role == 'tag'"}],"mark":{"type":"text","font":"Open Sans","fontSize":26,"align":"center","baseline":"middle","color":"#111111"},"encoding":{"text":{"field":"t"}}}
]
}
], "spacing": 27, "bounds": "flush"}
], "spacing": 31},
{
"width": 581, "height": 275,
"encoding": {
  "x": {"field":"x","type":"quantitative","scale":{"domain":[0,1],"nice":false,"zero":false},
        "axis":{"values":[0,0.1,0.2,0.3,0.4,0.5,0.6,0.7,0.8,0.9,1],"format":"~g","labelExpr":"indexof(['0','0.2','0.4','0.6','0.8','1'], datum.label) >= 0 ? datum.label : ''","labelPadding":22,"labelFontSize":19,"labelFlush":false,
                "title":"Relative downstream distance","titleFont":"DejaVu Sans","titleFontSize":27,"titleX":298,"titleY":58,"titleAlign":"center","titleBaseline":"alphabetic"}},
  "y": {"field":"y","type":"quantitative","scale":{"domain":[0,1],"nice":false,"zero":false},
        "axis":{"values":[0,0.1,0.2,0.3,0.4,0.5,0.6,0.7,0.8,0.9,1],"format":"~g","labelExpr":"indexof(['0','1'], datum.label) >= 0 ? datum.label : ''","labelPadding":24,"labelFontSize":22,"labelFlush":false,"title":null}}
},
"layer": [
  {"data":{"name":"arrows"},"transform":[{"filter":"datum.p == 'D'"}],"mark":{"type":"rule","stroke":"#a8a8a8","strokeWidth":25,"strokeCap":"round"},"encoding":{"x2":{"field":"x2"}}},
  {"data":{"name":"heads"},"transform":[{"filter":"datum.p == 'D'"}],"mark":{"type":"point","shape":"M0.94,0L-0.94,-1L-0.94,1Z","size":2500,"filled":true,"color":"#a8a8a8","opacity":1}},
  {"data":{"name":"boxes"},"transform":[{"filter":"datum.p == 'D' && datum.role == 'tag'"}],"mark":{"type":"rect","fill":"#dddddd","stroke":"#7f7f7f","strokeWidth":2},"encoding":{"x2":{"field":"x2"},"y2":{"field":"y2"}}},
  {"data":{"name":"boxes"},"transform":[{"filter":"datum.p == 'D' && datum.role == 'letter'"}],"mark":{"type":"rect","fill":"#ebebeb","stroke":"#000000","strokeWidth":1.5},"encoding":{"x2":{"field":"x2"},"y2":{"field":"y2"}}},
  {"data":{"name":"boxes"},"transform":[{"filter":"datum.p == 'D' && datum.role == 'note'"}],"mark":{"type":"rect","fill":"#eeeeee","stroke":"#000000","strokeWidth":1.5},"encoding":{"x2":{"field":"x2"},"y2":{"field":"y2"}}},
  {"data":{"name":"cD"},"mark":{"type":"line","stroke":"#000000","strokeWidth":2,"interpolate":"monotone"},"encoding":{"detail":{"field":"k","type":"nominal"}}},
  {"data":{"name":"texts"},"transform":[{"filter":"datum.p == 'D' && datum.role == 'letter'"}],"mark":{"type":"text","font":"DejaVu Sans","fontSize":28,"align":"center","baseline":"middle","color":"#000000"},"encoding":{"text":{"field":"t"}}},
  {"data":{"name":"texts"},"transform":[{"filter":"datum.p == 'D' && datum.role == 'note'"}],"mark":{"type":"text","font":"Open Sans","fontSize":30,"align":"center","baseline":"middle","color":"#111111"},"encoding":{"text":{"field":"t"}}},
  {"data":{"name":"texts"},"transform":[{"filter":"datum.p == 'D' && datum.role == 'tag'"}],"mark":{"type":"text","font":"Open Sans","fontSize":26,"align":"center","baseline":"middle","color":"#111111"},"encoding":{"text":{"field":"t"}}}
]
}
],
"spacing": 8
}
